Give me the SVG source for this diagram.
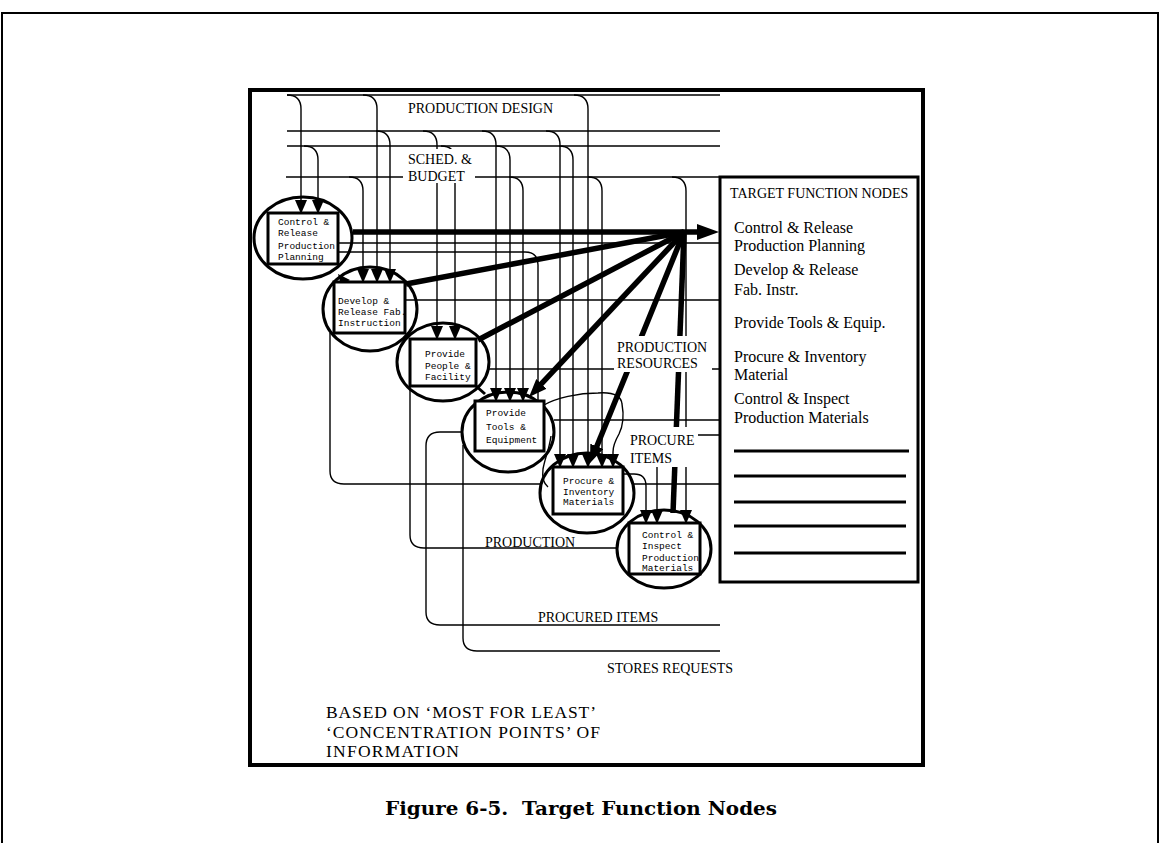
<svg xmlns="http://www.w3.org/2000/svg" width="1161" height="843" viewBox="0 0 1161 843">
<style>
.ln{fill:none;stroke:#000;stroke-width:1.4}
.thk{fill:none;stroke:#000;stroke-width:5.5}
.box{fill:#fff;stroke:#000;stroke-width:3}
.ring{fill:none;stroke:#000;stroke-width:3}
.mono{font-family:"Liberation Mono",monospace;font-size:9.5px;fill:#000}
.lbl{font-family:"Liberation Serif",serif;font-size:14px;fill:#000}
.tgt{font-family:"Liberation Serif",serif;font-size:16px;fill:#000}
.big{font-family:"Liberation Serif",serif;font-size:17.5px;fill:#000}
.bg{fill:#fff;stroke:none}
.rule{stroke:#000;stroke-width:3}
</style>
<defs>
<marker id="a" viewBox="0 0 14 12" refX="12" refY="6" markerWidth="14" markerHeight="12" markerUnits="userSpaceOnUse" orient="auto"><path d="M0,0 L14,6 L0,12 z"/></marker>
<marker id="b" viewBox="0 0 18 14" refX="8" refY="7" markerWidth="18" markerHeight="14" markerUnits="userSpaceOnUse" orient="auto"><path d="M0,0 L18,7 L0,14 z"/></marker>
<marker id="c" viewBox="0 0 22 16" refX="10" refY="8" markerWidth="22" markerHeight="16" markerUnits="userSpaceOnUse" orient="auto"><path d="M0,0 L22,8 L0,16 z"/></marker>
</defs>
<rect width="1161" height="843" fill="#fff"/>
<path d="M2,843 V13 H1158 V843" fill="none" stroke="#000" stroke-width="2"/>
<rect id="frame" x="250" y="90" width="673" height="675" fill="none" stroke="#000" stroke-width="4"/>

<g id="connectors">
<path class="ln" d="M287,95 H720"/>
<path class="ln" d="M287,131 H720"/>
<path class="ln" d="M287,146 H720"/>
<path class="ln" d="M286,177 H720"/>
<path class="ln" marker-end="url(#a)" d="M287,95 Q301,95 301,109 V212"/>
<path class="ln" marker-end="url(#a)" d="M304,146 Q318,146 318,160 V212"/>
<path class="ln" marker-end="url(#a)" d="M349,177 Q363,177 363,191 V281"/>
<path class="ln" marker-end="url(#a)" d="M363,95 Q377,95 377,109 V281"/>
<path class="ln" marker-end="url(#a)" d="M376,131 Q390,131 390,145 V281"/>
<path class="ln" marker-end="url(#a)" d="M423,131 Q437,131 437,145 V338"/>
<path class="ln" marker-end="url(#a)" d="M441,146 Q455,146 455,160 V338"/>
<path class="ln" marker-end="url(#a)" d="M482,131 Q496,131 496,145 V400"/>
<path class="ln" marker-end="url(#a)" d="M496,146 Q510,146 510,160 V400"/>
<path class="ln" marker-end="url(#a)" d="M509,177 Q523,177 523,191 V400"/>
<path class="ln" marker-end="url(#a)" d="M546,131 Q560,131 560,145 V466"/>
<path class="ln" marker-end="url(#a)" d="M559,146 Q573,146 573,160 V466"/>
<path class="ln" marker-end="url(#a)" d="M574,95 Q588,95 588,109 V466"/>
<path class="ln" marker-end="url(#a)" d="M588,177 Q602,177 602,191 V466"/>
<path class="ln" marker-end="url(#a)" d="M672,177 Q686,177 686,191 V522"/>
<path class="ln" d="M338,243 H720"/>
<path class="ln" d="M338,252 H525 Q538,252 538,265 V400"/>
<path class="ln" d="M405,300 H720"/>
<path class="ln" d="M489,369 H720"/>
<path class="ln" d="M554,420 H720"/>
<path class="ln" marker-end="url(#a)" d="M720,435 H668 Q657,435 657,446 V522"/>
<path class="ln" d="M462,432 H440 Q426,432 426,446 V612 Q426,625 440,625 H720"/>
<path class="ln" d="M463,445 V638 Q463,651 477,651 H720"/>
<path class="ln" d="M410,386 V535 Q410,548 424,548 H617"/>
<path class="ln" d="M330,333 V471 Q330,484 344,484 H540 M634,484 H720"/>
<path class="ln" marker-end="url(#a)" d="M623,474 H634 Q646,474 646,486 V522"/>
<path class="ln" marker-end="url(#a)" d="M544,405 C556,398 578,393 598,393 C612,392 621,395 622,404 C624,415 623,426 619,434 C615,441 613,446 613,452 V466"/>
<path class="ln" d="M551,436 C549,450 545,458 543,469 C542,477 543,483 548,487"/>
<path class="thk" marker-end="url(#c)" d="M353,232 H707"/>
<path class="thk" d="M684,232 L406,284"/>
<path class="thk" d="M684,232 L478,340"/>
<path class="thk" marker-end="url(#b)" d="M684,232 L535.9,389.7"/>
<path class="thk" marker-end="url(#b)" d="M684,232 L593.8,453.7"/>
<path class="thk" d="M684,232 L673,513"/>
<path d="M476,386 L485,394" stroke="#000" stroke-width="3"/>
<polygon points="338,274 350,280 341,285" fill="#000"/>
</g>

<g id="labels">
<text class="lbl" x="408" y="113">PRODUCTION DESIGN</text>
<rect class="bg" x="403" y="149" width="72" height="34"/>
<text class="lbl" x="408" y="164">SCHED. &amp;</text>
<text class="lbl" x="408" y="181">BUDGET</text>
<rect class="bg" x="614" y="336" width="98" height="36"/>
<text class="lbl" x="617" y="352">PRODUCTION</text>
<text class="lbl" x="617" y="368">RESOURCES</text>
<rect class="bg" x="627" y="427" width="71" height="40"/>
<text class="lbl" x="630" y="445">PROCURE</text>
<text class="lbl" x="630" y="463">ITEMS</text>
<text class="lbl" x="485" y="547">PRODUCTION</text>
<text class="lbl" x="538" y="622">PROCURED ITEMS</text>
<text class="lbl" x="607" y="673">STORES REQUESTS</text>
<text class="big" x="326" y="718" textLength="270" lengthAdjust="spacing">BASED ON ‘MOST FOR LEAST’</text>
<text class="big" x="326" y="737.5" textLength="274" lengthAdjust="spacing">‘CONCENTRATION POINTS’ OF</text>
<text class="big" x="326" y="757" textLength="133" lengthAdjust="spacing">INFORMATION</text>
</g>

<g id="target-box">
<rect x="720" y="177" width="198" height="405" fill="#fff" stroke="#000" stroke-width="3"/>
<text class="lbl" x="730" y="198">TARGET FUNCTION NODES</text>
<text class="tgt" x="734" y="233">Control &amp; Release</text>
<text class="tgt" x="734" y="251">Production Planning</text>
<text class="tgt" x="734" y="275">Develop &amp; Release</text>
<text class="tgt" x="734" y="295">Fab. Instr.</text>
<text class="tgt" x="734" y="328">Provide Tools &amp; Equip.</text>
<text class="tgt" x="734" y="362">Procure &amp; Inventory</text>
<text class="tgt" x="734" y="380">Material</text>
<text class="tgt" x="734" y="404">Control &amp; Inspect</text>
<text class="tgt" x="734" y="423">Production Materials</text>
<line class="rule" x1="734" y1="451" x2="909" y2="451"/>
<line class="rule" x1="734" y1="476" x2="906" y2="476"/>
<line class="rule" x1="734" y1="502" x2="906" y2="502"/>
<line class="rule" x1="734" y1="526" x2="906" y2="526"/>
<line class="rule" x1="734" y1="553" x2="906" y2="553"/>
</g>

<g id="node-1">
<ellipse class="ring" cx="303" cy="238" rx="49" ry="41"/>
<rect class="box" x="268" y="213" width="70" height="51"/>
<text class="mono" x="278" y="225">Control &amp;</text>
<text class="mono" x="278" y="236">Release</text>
<text class="mono" x="278" y="249">Production</text>
<text class="mono" x="278" y="260">Planning</text>
</g>
<g id="node-2">
<ellipse class="ring" cx="370" cy="309" rx="47" ry="42"/>
<rect class="box" x="334" y="282" width="71" height="51"/>
<text class="mono" x="338" y="304">Develop &amp;</text>
<text class="mono" x="338" y="315">Release Fab.</text>
<text class="mono" x="338" y="326">Instruction</text>
</g>
<g id="node-3">
<ellipse class="ring" cx="443" cy="362" rx="46" ry="39"/>
<rect class="box" x="410" y="339" width="66" height="47"/>
<text class="mono" x="425" y="357">Provide</text>
<text class="mono" x="425" y="369">People &amp;</text>
<text class="mono" x="425" y="380">Facility</text>
</g>
<g id="node-4">
<ellipse class="ring" cx="508" cy="432" rx="46" ry="40"/>
<rect class="box" x="475" y="401" width="69" height="50"/>
<text class="mono" x="486" y="416">Provide</text>
<text class="mono" x="486" y="430">Tools &amp;</text>
<text class="mono" x="486" y="443">Equipment</text>
</g>
<g id="node-5">
<ellipse class="ring" cx="587" cy="493" rx="47" ry="40"/>
<rect class="box" x="553" y="467" width="70" height="47"/>
<text class="mono" x="563" y="484">Procure &amp;</text>
<text class="mono" x="563" y="495">Inventory</text>
<text class="mono" x="563" y="505">Materials</text>
</g>
<g id="node-6">
<ellipse class="ring" cx="664" cy="549" rx="47" ry="39"/>
<rect class="box" x="629" y="523" width="71" height="51"/>
<text class="mono" x="642" y="538">Control &amp;</text>
<text class="mono" x="642" y="549">Inspect</text>
<text class="mono" x="642" y="561">Production</text>
<text class="mono" x="642" y="571">Materials</text>
</g>

<text x="581" y="815" text-anchor="middle" font-family="DejaVu Serif, serif" font-weight="bold" font-size="19" textLength="392" lengthAdjust="spacingAndGlyphs">Figure 6-5.&#160; Target Function Nodes</text>
</svg>
